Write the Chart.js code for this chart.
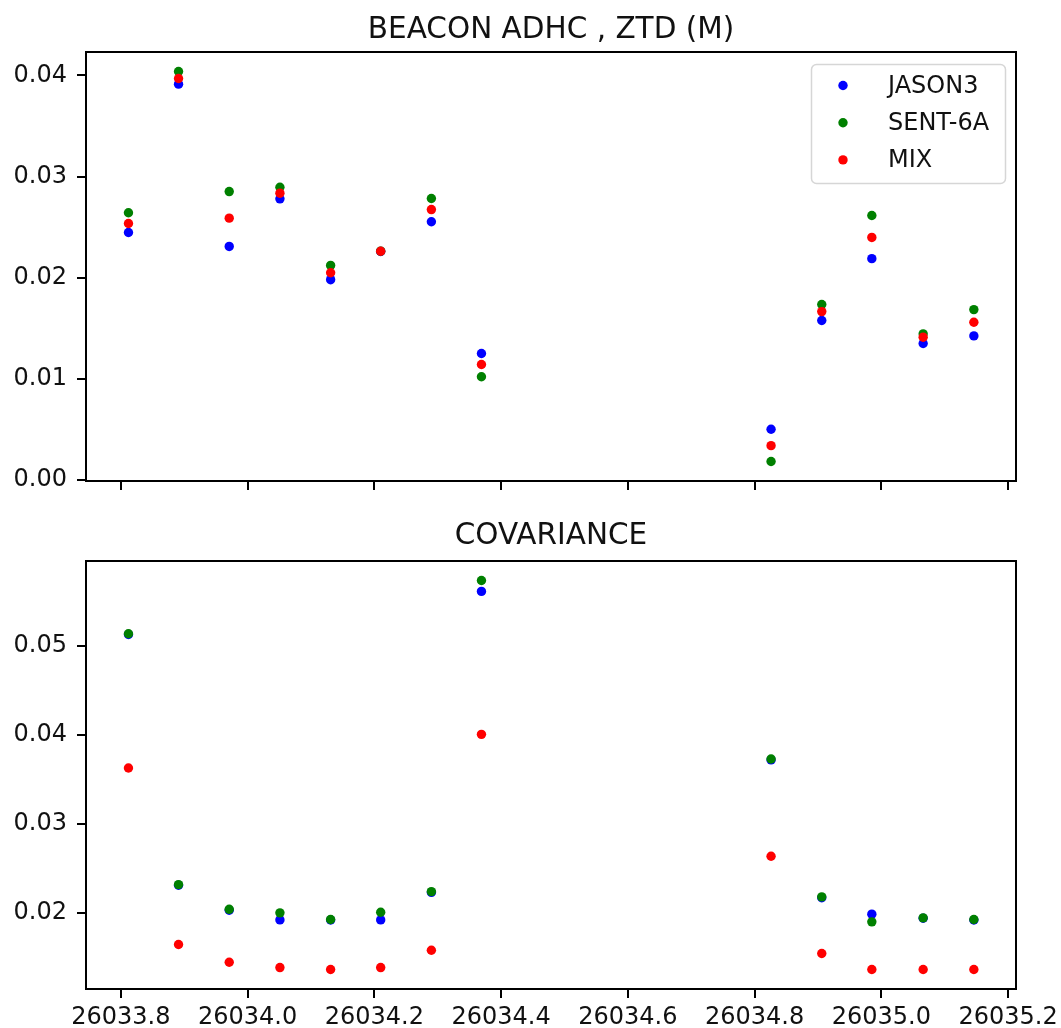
<!DOCTYPE html>
<html><head><meta charset="utf-8">
<script src="https://cdn.jsdelivr.net/npm/chart.js@4.4.1/dist/chart.umd.min.js"></script>
<style>
html,body{margin:0;padding:0;background:#fff;}
#wrap{position:relative;width:1061px;height:1028px;overflow:hidden;background:#fff;}
canvas{position:absolute;left:0;}
</style></head><body>
<div id="wrap">
<canvas id="c1" width="1061" height="520" style="top:0px;width:1061px;height:520px"></canvas>
<canvas id="c2" width="1061" height="508" style="top:520px;width:1061px;height:508px"></canvas>
</div>
<script>
// ---- data ----
const xValues = [26033.812, 26033.891, 26033.971, 26034.051, 26034.131, 26034.210, 26034.290,
                 26034.369, 26034.826, 26034.906, 26034.985, 26035.066, 26035.146];
const seriesNames = ["JASON3", "SENT-6A", "MIX"];

const ztdJason3 = [0.02446, 0.03914, 0.02308, 0.02779, 0.01979, 0.02258, 0.02552, 0.01249, 0.00499, 0.01575, 0.02187, 0.01348, 0.01423];
const ztdSent6a = [0.02641, 0.04039, 0.02851, 0.02894, 0.02120, 0.02262, 0.02782, 0.01019, 0.00180, 0.01733, 0.02614, 0.01443, 0.01683];
const ztdMix    = [0.02535, 0.03970, 0.02588, 0.02835, 0.02048, 0.02260, 0.02673, 0.01140, 0.00337, 0.01663, 0.02397, 0.01410, 0.01558];

const covJason3 = [0.05130, 0.02310, 0.02030, 0.01921, 0.01920, 0.01921, 0.02230, 0.05614, 0.03720, 0.02170, 0.01985, 0.01940, 0.01920];
const covSent6a = [0.05138, 0.02318, 0.02040, 0.02000, 0.01925, 0.02007, 0.02239, 0.05737, 0.03730, 0.02180, 0.01899, 0.01944, 0.01925];
const covMix    = [0.03629, 0.01644, 0.01445, 0.01385, 0.01363, 0.01385, 0.01580, 0.04007, 0.02636, 0.01543, 0.01363, 0.01363, 0.01363];

const xTickValues = [26033.8, 26034.0, 26034.2, 26034.4, 26034.6, 26034.8, 26035.0, 26035.2];
const ztdTickValues = [0.00, 0.01, 0.02, 0.03, 0.04];
const covTickValues = [0.02, 0.03, 0.04, 0.05];

const titles = ["BEACON ADHC , ZTD (M)", "COVARIANCE"];

// ---- styling / layout ----
const COLORS = ["#0000ff", "#008000", "#ff0000"];
const FONT = "'DejaVu Sans', 'Liberation Sans', sans-serif";
const TEXT = "#111111";
const X_MIN = 26033.745, X_MAX = 26035.2125;

Chart.defaults.font.family = FONT;
Chart.defaults.color = TEXT;

function pts(ys) { return xValues.map((x, i) => ({x: x, y: ys[i]})); }

function datasets(a, b, c) {
  return [a, b, c].map((ys, i) => ({
    label: seriesNames[i],
    data: pts(ys),
    order: 2 - i,              // later series drawn on top, like matplotlib
    backgroundColor: COLORS[i],
    borderColor: COLORS[i],
    borderWidth: 0,
    pointRadius: 4.7,
    pointHoverRadius: 4.7,
    pointStyle: 'circle'
  }));
}

const gridOpts = {display: true, drawOnChartArea: false, drawTicks: true, tickLength: 9, color: '#000', lineWidth: 2};

function xScale(showLabels, h) {
  return {
    type: 'linear', position: 'bottom', min: X_MIN, max: X_MAX,
    afterBuildTicks: s => { s.ticks = xTickValues.map(v => ({value: v})); },
    afterFit: s => { s.height = h; s.paddingLeft = 0; s.paddingRight = 0; },
    grid: gridOpts, border: {display: false},
    ticks: {display: showLabels, padding: 5, color: TEXT, font: {size: 24}, maxRotation: 0, autoSkip: false,
            callback: v => Number(v).toFixed(1)}
  };
}
function yScale(min, max, tickVals) {
  return {
    type: 'linear', position: 'left', min: min, max: max,
    afterBuildTicks: s => { s.ticks = tickVals.map(v => ({value: v})); },
    afterFit: s => { s.width = 86; s.paddingTop = 0; s.paddingBottom = 0; },
    grid: gridOpts, border: {display: false},
    ticks: {padding: 10, color: TEXT, font: {size: 24}, autoSkip: false,
            callback: v => Number(v).toFixed(2)}
  };
}

const framePlugin = {
  id: 'frameTitle',
  afterDraw(chart, args, opts) {
    const ctx = chart.ctx, a = chart.chartArea;
    ctx.save();
    ctx.strokeStyle = '#000';
    ctx.lineWidth = 2;
    ctx.strokeRect(a.left, a.top, a.right - a.left, a.bottom - a.top);
    ctx.fillStyle = TEXT;
    ctx.font = "29.5px " + FONT;
    ctx.textAlign = 'center';
    ctx.textBaseline = 'alphabetic';
    ctx.fillText(opts.text, (a.left + a.right) / 2, opts.baseline);
    if (opts.legend) {
      const bx = 811, by = 64, bw = 194, bh = 119;
      ctx.beginPath();
      if (ctx.roundRect) ctx.roundRect(bx + 0.5, by + 0.5, bw, bh, 5); else ctx.rect(bx + 0.5, by + 0.5, bw, bh);
      ctx.fillStyle = 'rgba(255,255,255,0.8)';
      ctx.fill();
      ctx.strokeStyle = '#d6d6d6';
      ctx.lineWidth = 1.5;
      ctx.stroke();
      chart.data.datasets.forEach((ds, i) => {
        const yy = 85.5 + i * 37.2;
        ctx.beginPath();
        ctx.arc(843, yy, 4.7, 0, Math.PI * 2);
        ctx.fillStyle = ds.backgroundColor;
        ctx.fill();
        ctx.fillStyle = TEXT;
        ctx.font = "24px " + FONT;
        ctx.textAlign = 'left';
        ctx.textBaseline = 'middle';
        ctx.fillText(ds.label, 888, yy + 1);
      });
    }
    ctx.restore();
  }
};

function makeChart(id, ds, yMin, yMax, yTicks, showXLabels, xH, padTop, title, baseline, legend) {
  return new Chart(document.getElementById(id), {
    type: 'scatter',
    data: {datasets: ds},
    options: {
      responsive: false, animation: false, devicePixelRatio: 1, events: [],
      layout: {padding: {left: 0, right: 45, top: padTop, bottom: 0}},
      scales: {x: xScale(showXLabels, xH), y: yScale(yMin, yMax, yTicks)},
      plugins: {legend: {display: false}, title: {display: false}, tooltip: {enabled: false},
                frameTitle: {text: title, baseline: baseline, legend: legend}}
    },
    plugins: [framePlugin]
  });
}

makeChart('c1', datasets(ztdJason3, ztdSent6a, ztdMix), -0.00013, 0.04232, ztdTickValues, false, 39, 52, titles[0], 37.5, true);
makeChart('c2', datasets(covJason3, covSent6a, covMix), 0.01144, 0.05956, covTickValues, true, 39, 41, titles[1], 23.5, false);
</script>
</body></html>
